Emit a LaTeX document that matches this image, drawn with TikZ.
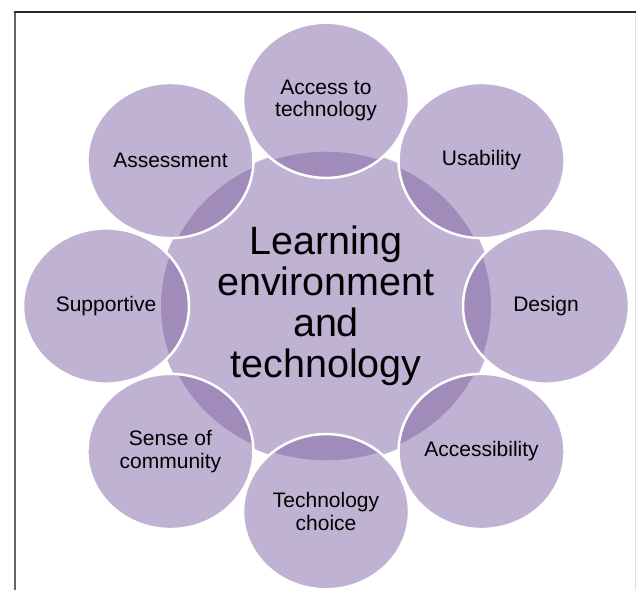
\documentclass[tikz,border=0pt]{standalone}
\usepackage{fontspec}
\setmainfont{Liberation Sans}
\definecolor{lightlilac}{HTML}{BFB2D3}
\definecolor{darklilac}{HTML}{A08BBA}
\tikzset{
  satedge/.style={draw=white,line width=2.5pt},
  satlabel/.style={align=center,font=\fontsize{21}{22.5}\selectfont},
  hublabel/.style={align=center,font=\fontsize{39.5}{41}\selectfont},
}
\begin{document}
\begin{tikzpicture}[x=1pt,y=1pt]
  \useasboundingbox (0,0) rectangle (636,590);
  % Frame
  \draw[black!60,line width=2pt] (15,0) -- (15,578);
  \draw[black!85,line width=1.5pt] (14,578) -- (636,578);
  \draw[black!12,line width=.6pt] (635,0) -- (635,577);
  % Circles
  \begin{scope}[shift={(326,284)},yscale=0.935]
    \fill[lightlilac] (0,0) circle (169);
    \draw[white,opacity=.6,line width=.6pt] (0,0) circle (169);
    \foreach \a in {90,45,...,-225} {
      \fill[lightlilac] (\a:220) circle (83);
      \begin{scope}
        \clip (0,0) circle (165);
        \fill[darklilac] (\a:220) circle (83);
      \end{scope}
    }
    \foreach \a in {90,45,...,-225}
      \draw[satedge] (\a:220) circle (83);
    % Labels
    \node[hublabel] (hub) at (0,0) {Learning\\environment\\and\\technology};
    \node[satlabel] (access) at (90:220) {Access to\\technology};
    \node[satlabel] (usability) at (45:220) {Usability};
    \node[satlabel] (design) at (0:220) {Design};
    \node[satlabel] (accessibility) at (-45:220) {Accessibility};
    \node[satlabel] (choice) at (-90:220) {Technology\\choice};
    \node[satlabel] (community) at (-135:220) {Sense of\\community};
    \node[satlabel] (supportive) at (180:220) {Supportive};
    \node[satlabel] (assessment) at (135:220) {Assessment};
  \end{scope}
\end{tikzpicture}
\end{document}
